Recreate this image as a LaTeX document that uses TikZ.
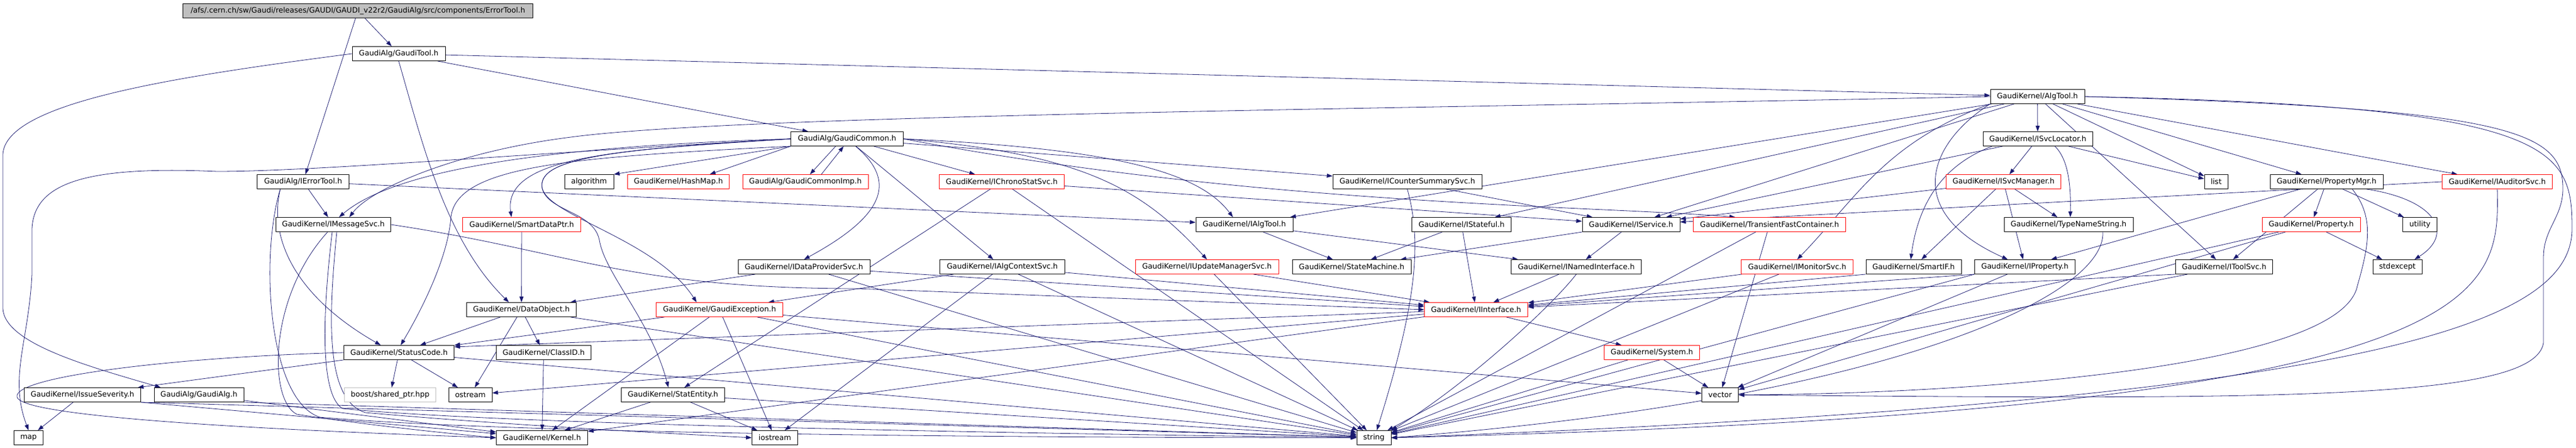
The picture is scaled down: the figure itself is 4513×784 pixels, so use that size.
\documentclass[tikz,border=0pt]{standalone}
\usepackage{fontspec}
\setmainfont{DejaVu Sans}
\usetikzlibrary{arrows.meta,backgrounds}
\definecolor{dblue}{RGB}{25,25,112}
\definecolor{boxgray}{RGB}{191,191,191}
\tikzset{
	hdr/.style={draw=black, line width=0.9pt, fill=white, minimum height=25pt, inner sep=0pt, font=\fontsize{13}{15}\selectfont},
	hdrred/.style={hdr, draw=red},
	hdrgray/.style={hdr, draw=boxgray},
	hdrtop/.style={hdr, fill=boxgray},
	incl/.style={draw=dblue, line width=0.8pt, -{Triangle[length=10pt,width=7pt]}}
}

\begin{document}
\begin{tikzpicture}[x=1pt,y=-1pt]
			\useasboundingbox (0,0) rectangle (4513,784);
			%%%%% HEADERS %%%%%
			\node[hdrtop, minimum width=613pt] (top) at (627,19) {/afs/.cern.ch/sw/Gaudi/releases/GAUDI/GAUDI\_v22r2/GaudiAlg/src/components/ErrorTool.h};
			
			\node[hdr, minimum width=163pt] (gtool) at (698.5,94) {GaudiAlg/GaudiTool.h};
			\node[hdr, minimum width=165pt] (algtool) at (3569.5,169) {GaudiKernel/AlgTool.h};
			
			\node[hdr, minimum width=197pt] (gcommon) at (1484,243) {GaudiAlg/GaudiCommon.h};
			\node[hdr, minimum width=192pt] (svcloc) at (3570,243) {GaudiKernel/ISvcLocator.h};
			
			\node[hdr, minimum width=161pt] (ierrtool) at (531,318) {GaudiAlg/IErrorTool.h};
			\node[hdr, minimum width=86pt] (algorithm) at (1032,318) {algorithm};
			\node[hdrred, minimum width=178pt] (hashmap) at (1188.5,318) {GaudiKernel/HashMap.h};
			\node[hdrred, minimum width=220pt] (gcommonimp) at (1411,318) {GaudiAlg/GaudiCommonImp.h};
			\node[hdrred, minimum width=219pt] (ichrono) at (1755,318) {GaudiKernel/IChronoStatSvc.h};
			\node[hdr, minimum width=261pt] (icounter) at (2465.5,318) {GaudiKernel/ICounterSummarySvc.h};
			\node[hdrred, minimum width=201pt] (isvcmgr) at (3510,318) {GaudiKernel/ISvcManager.h};
			\node[hdr, minimum width=41pt] (list) at (3882.5,318) {list};
			\node[hdr, minimum width=198pt] (propmgr) at (4076,318) {GaudiKernel/PropertyMgr.h};
			\node[hdrred, minimum width=193pt] (iauditor) at (4375,318) {GaudiKernel/IAuditorSvc.h};
			
			\node[hdr, minimum width=201pt] (imsgsvc) at (584,393) {GaudiKernel/IMessageSvc.h};
			\node[hdrred, minimum width=207pt] (smartptr) at (914,393) {GaudiKernel/SmartDataPtr.h};
			\node[hdr, minimum width=170pt] (ialgtool) at (2180,393) {GaudiKernel/IAlgTool.h};
			\node[hdr, minimum width=174pt] (istateful) at (2560.5,393) {GaudiKernel/IStateful.h};
			\node[hdr, minimum width=171pt] (iservice) at (2857.5,393) {GaudiKernel/IService.h};
			\node[hdrred, minimum width=267pt] (transient) at (3100,393) {GaudiKernel/TransientFastContainer.h};
			\node[hdr, minimum width=226pt] (typename) at (3624,393) {GaudiKernel/TypeNameString.h};
			\node[hdrred, minimum width=172pt] (property) at (4049,393) {GaudiKernel/Property.h};
			\node[hdr, minimum width=60pt] (utility) at (4239.5,393) {utility};
			
			\node[hdr, minimum width=231pt] (idataprov) at (1408.5,467) {GaudiKernel/IDataProviderSvc.h};
			\node[hdr, minimum width=219pt] (ialgctx) at (1756,467) {GaudiKernel/IAlgContextSvc.h};
			\node[hdrred, minimum width=251pt] (iupdate) at (2114.5,467) {GaudiKernel/IUpdateManagerSvc.h};
			\node[hdr, minimum width=208pt] (statemach) at (2368,467) {GaudiKernel/StateMachine.h};
			\node[hdr, minimum width=228pt] (inamed) at (2761.5,467) {GaudiKernel/INamedInterface.h};
			\node[hdrred, minimum width=196pt] (imonitor) at (3148.5,467) {GaudiKernel/IMonitorSvc.h};
			\node[hdr, minimum width=167pt] (smartif) at (3352.5,467) {GaudiKernel/SmartIF.h};
			\node[hdr, minimum width=176pt] (iproperty) at (3547.5,467) {GaudiKernel/IProperty.h};
			\node[hdr, minimum width=170pt] (itoolsvc) at (3896.5,467) {GaudiKernel/IToolSvc.h};
			\node[hdr, minimum width=86pt] (stdexcept) at (4200,467) {stdexcept};
			
			\node[hdr, minimum width=192pt] (dataobj) at (913.5,542) {GaudiKernel/DataObject.h};
			\node[hdrred, minimum width=222pt] (gexcept) at (1260.5,542) {GaudiKernel/GaudiException.h};
			\node[hdrred, minimum width=181pt] (iinterface) at (2586,542) {GaudiKernel/IInterface.h};
			
			\node[hdr, minimum width=193pt] (statuscode) at (699,617) {GaudiKernel/StatusCode.h};
			\node[hdr, minimum width=166pt] (classid) at (952.5,617) {GaudiKernel/ClassID.h};
			\node[hdrred, minimum width=167pt] (system) at (2894,617) {GaudiKernel/System.h};
			
			\node[hdr, minimum width=204pt] (issue) at (144.5,691) {GaudiKernel/IssueSeverity.h};
			\node[hdr, minimum width=157pt] (galg) at (348.5,691) {GaudiAlg/GaudiAlg.h};
			\node[hdrgray, minimum width=160pt] (boost) at (683.5,691) {boost/shared\_ptr.hpp};
			\node[hdr, minimum width=76pt] (ostream) at (824,691) {ostream};
			\node[hdr, minimum width=181pt] (statentity) at (1179,691) {GaudiKernel/StatEntity.h};
			\node[hdr, minimum width=64pt] (vector) at (3013.5,691) {vector};
			
			\node[hdr, minimum width=51pt] (map) at (50,766) {map};
			\node[hdr, minimum width=160pt] (kernel) at (949.5,766) {GaudiKernel/Kernel.h};
			\node[hdr, minimum width=80pt] (iostream) at (1357.5,766) {iostream};
			\node[hdr, minimum width=60pt] (string) at (2407,766) {string};
			
			%%%%% INCLUDES %%%%%
			\begin{pgfonlayer}{background}
			\draw[incl] (top) -- (gtool);
			\draw[incl] (top) -- (ierrtool);
			
			\draw[incl] (gtool) -- (algtool);
			\draw[incl] (gtool) -- (gcommon);
			\draw[incl] (gtool.south) .. controls (740,250) and (780,420) .. ([xshift=-22pt]dataobj.north);
			\draw[incl] (gtool.west) .. controls (300,135) and (10,180) .. (5,270) -- (5,540) .. controls (8,600) and (150,640) .. ([xshift=-67pt]galg.north);
			
			\draw[incl] (algtool) -- (svcloc);
			\draw[incl] (algtool) -- (ialgtool);
			\draw[incl] (algtool) -- (iservice);
			\draw[incl] (algtool) -- (propmgr);
			\draw[incl] (algtool) -- (iauditor);
			\draw[incl] (algtool) -- (list);
			\draw[incl] (algtool) -- (itoolsvc);
			\draw[incl] (algtool) -- (istateful);
			\draw[incl] (algtool.south west) .. controls (3300,250) and (3250,350) .. (imonitor.north);
			\draw[incl] (algtool.south west) .. controls (3380,250) and (3330,370) .. ([xshift=-30pt]iproperty.north);
			\draw[incl] (algtool.west) .. controls (2500,190) and (1300,200) .. (1000,240) .. controls (800,265) and (650,330) .. ([xshift=28pt]imsgsvc.north);
			\draw[incl] (algtool.east) .. controls (4480,185) and (4506,260) .. (4506,400) .. controls (4506,560) and (4200,700) .. (string.east);
			\draw[incl] (algtool.east) .. controls (4400,190) and (4490,230) .. (4490,330) .. controls (4490,380) and (4456,400) .. (4456,450) -- (4456,600) .. controls (4440,700) and (4000,700) .. (vector.east);
			
			\draw[incl] (svcloc) -- (isvcmgr);
			\draw[incl] ([xshift=30pt]svcloc.south) .. controls (3625,280) and (3628,330) .. ([xshift=3pt]typename.north);
			\draw[incl] ([xshift=-80pt]svcloc.south) .. controls (3400,290) and (3360,360) .. ([xshift=-5pt]smartif.north);
			\draw[incl] (svcloc) -- (iservice);
			\draw[incl] (svcloc) -- (list);
			
			\draw[incl] (gcommon.south west) -- (algorithm.north east);
			\draw[incl] (gcommon.south west) -- ([xshift=55pt]hashmap.north);
			\draw[incl] ([xshift=-20pt]gcommon.south) -- ([xshift=8pt]gcommonimp.north);
			\draw[incl] ([xshift=28pt]gcommonimp.north) -- ([xshift=-6pt]gcommon.south);
			\draw[incl] (gcommon) -- (ichrono);
			\draw[incl] (gcommon) -- (icounter);
			\draw[incl] (gcommon) -- (ialgctx);
			\draw[incl] (gcommon.west) .. controls (1000,255) and (700,290) .. ([xshift=10pt]imsgsvc.north);
			\draw[incl] (gcommon.west) .. controls (1100,262) and (880,270) .. ([xshift=-18pt]smartptr.north);
			\draw[incl] (gcommon.south west) .. controls (1000,275) and (800,290) .. (790,380) .. controls (785,450) and (740,540) .. ([xshift=3pt]statuscode.north);
			\draw[incl] ([xshift=15pt]gcommon.south) .. controls (1575,320) and (1545,380) .. (idataprov.north);
			\draw[incl] (gcommon.east) .. controls (1900,270) and (2000,330) .. (iupdate.north);
			\draw[incl] (gcommon.east) .. controls (1950,260) and (2100,300) .. ([xshift=-20pt]ialgtool.north);
			\draw[incl] (gcommon.east) .. controls (2200,360) and (2800,360) .. ([xshift=-60pt]transient.north);
			\draw[incl] (gcommon.west) .. controls (1050,262) and (940,280) .. (950,330) .. controls (965,380) and (1150,420) .. ([xshift=-40pt]gexcept.north);
			\draw[incl] (gcommon.west) .. controls (1050,262) and (940,280) .. (950,330) .. controls (960,370) and (1040,370) .. (1050,420) .. controls (1060,480) and (1140,560) .. ([xshift=-8pt]statentity.north);
			\draw[incl] (gcommon.west) .. controls (900,270) and (550,300) .. (380,300) .. controls (150,290) and (60,320) .. (56,400) -- (56,480) .. controls (50,600) and (15,660) .. (map.north);
			
			\draw[incl] (ierrtool) -- (imsgsvc);
			\draw[incl] ([xshift=-40pt]ierrtool.south) .. controls (470,420) and (520,520) .. ([xshift=-32pt]statuscode.north);
			\draw[incl] (ierrtool) -- (ialgtool);
			\draw[incl] ([xshift=-40pt]ierrtool.south) .. controls (455,450) and (470,700) .. (560,730) .. controls (900,760) and (1800,766) .. (string.west);
			
			\draw[incl] (ichrono) -- (iservice);
			\draw[incl] (ichrono) -- (statentity);
			\draw[incl] (ichrono) -- (string);
			\draw[incl] (icounter) -- (iservice);
			\draw[incl] (icounter.south) .. controls (2490,420) and (2485,520) .. ([xshift=5pt]string.north);
			
			\draw[incl] (isvcmgr) -- (iservice);
			\draw[incl] (isvcmgr) -- (typename);
			\draw[incl] (isvcmgr) -- (smartif);
			\draw[incl] (isvcmgr) -- (iproperty);
			
			\draw[incl] (propmgr) -- (property);
			\draw[incl] (propmgr) -- (utility);
			\draw[incl] (propmgr) -- (iproperty);
			\draw[incl] (propmgr) -- (itoolsvc);
			\draw[incl] ([xshift=70pt]propmgr.south) .. controls (4270,350) and (4300,410) .. ([xshift=30pt]stdexcept.north);
			\draw[incl] ([xshift=45pt]propmgr.south) .. controls (4160,380) and (4150,430) .. (4130,500) .. controls (4100,650) and (3400,690) .. (vector.east);
			
			\draw[incl] (iauditor.west) -- (iservice);
			\draw[incl] (iauditor.south) .. controls (4379,520) and (4379,720) .. (string.east);
			
			\draw[incl] (imsgsvc.east) .. controls (1000,440) and (1100,505) .. (1500,505) -- (iinterface.west);
			\draw[incl] ([xshift=-2pt]imsgsvc.south) .. controls (565,550) and (560,690) .. (600,715) .. controls (900,745) and (1900,760) .. (string.west);
			\draw[incl] ([xshift=6pt]imsgsvc.south) .. controls (575,560) and (570,700) .. (640,722) .. controls (900,745) and (1200,760) .. (iostream.west);
			\draw[incl] ([xshift=-10pt]imsgsvc.south) .. controls (470,520) and (470,700) .. (520,725) .. controls (650,745) and (800,760) .. (kernel.west);
			\draw[incl] (smartptr) -- (dataobj);
			
			\draw[incl] (ialgtool) -- (statemach);
			\draw[incl] (ialgtool) -- (inamed);
			\draw[incl] (istateful) -- (statemach);
			\draw[incl] (istateful) -- (iinterface);
			\draw[incl] (iservice) -- (inamed);
			\draw[incl] (iservice) -- (statemach);
			\draw[incl] (transient) -- (vector);
			\draw[incl] (transient) -- (string);
			\draw[incl] ([xshift=60pt]typename.south) .. controls (3690,520) and (3300,700) .. (string.east);
			\draw[incl] (property) -- (stdexcept);
			\draw[incl] (property) -- (string);
			\draw[incl] (property) -- (vector);
			
			\draw[incl] (idataprov) -- (iinterface);
			\draw[incl] (idataprov) -- (dataobj);
			\draw[incl] (idataprov) -- (string);
			\draw[incl] (ialgctx) -- (iinterface);
			\draw[incl] (ialgctx) -- (string);
			\draw[incl] (ialgctx) -- (iostream);
			\draw[incl] (ialgctx) -- (gexcept);
			\draw[incl] (iupdate) -- (iinterface);
			\draw[incl] (iupdate) -- (string);
			\draw[incl] (inamed) -- (iinterface);
			\draw[incl] (inamed.south) .. controls (2715,540) and (2560,680) .. (string.north east);
			\draw[incl] (imonitor) -- (iinterface);
			\draw[incl] (imonitor) -- (string);
			\draw[incl] (smartif.south west) -- (iinterface);
			\draw[incl] (iproperty) -- (vector);
			\draw[incl] (iproperty.south west) -- (string);
			\draw[incl] (iproperty.south west) -- (iinterface);
			\draw[incl] (itoolsvc.south west) -- (iinterface);
			\draw[incl] (itoolsvc) -- (string);
			
			\draw[incl] (dataobj) -- (statuscode);
			\draw[incl] (dataobj) -- (ostream);
			\draw[incl] (dataobj) -- (classid);
			\draw[incl] (dataobj) -- (string);
			\draw[incl] (gexcept) -- (statuscode);
			\draw[incl] (gexcept) -- (kernel);
			\draw[incl] (gexcept) -- (iostream);
			\draw[incl] (gexcept) -- (string);
			\draw[incl] (gexcept) -- (vector);
			\draw[incl] (iinterface) -- ([yshift=10pt]statuscode.east);
			\draw[incl] (iinterface) -- (kernel);
			\draw[incl] (iinterface) -- (system);
			\draw[incl] (iinterface) -- (ostream);
			
			\draw[incl] (statuscode) -- (ostream);
			\draw[incl] (statuscode) -- (boost);
			\draw[incl] (statuscode) -- (issue);
			\draw[incl] (statuscode) -- (string);
			\draw[incl] (statuscode.west) .. controls (300,625) and (20,660) .. (30,695) .. controls (40,735) and (600,757) .. (kernel.west);
			\draw[incl] (classid) -- (kernel);
			\draw[incl] (system) -- (vector);
			\draw[incl] (system) -- (string);
			
			\draw[incl] (issue) -- (map);
			\draw[incl] (issue.south east) -- (kernel);
			\draw[incl] (issue.south east) -- (string);
			\draw[incl] (galg) -- (kernel);
			\draw[incl] (galg.south east) -- (string);
			\draw[incl] (statentity) -- (kernel);
			\draw[incl] (statentity) -- (iostream);
			\draw[incl] (statentity) -- (string);
			\end{pgfonlayer}
		\end{tikzpicture}
\end{document}
